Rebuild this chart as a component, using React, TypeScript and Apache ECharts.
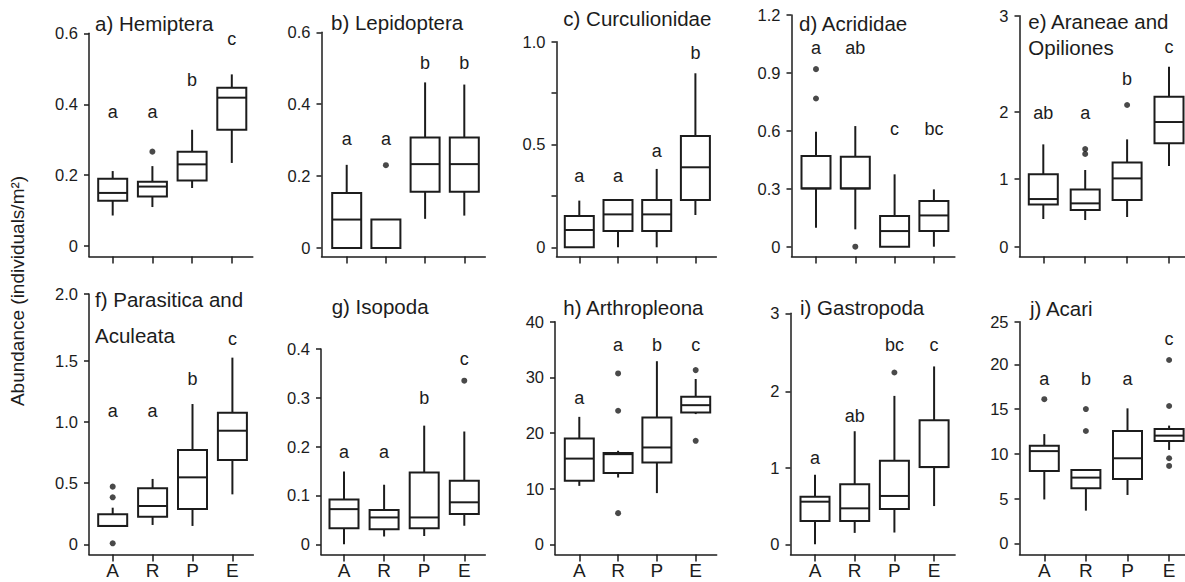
import React, { useEffect, useRef } from 'react';
import * as echarts from 'echarts';

// ---------- DATA ----------
const categories = ['A', 'R', 'P', 'E'];
const yAxisTitle = 'Abundance (individuals/m²)';

// box stats per category: [min, Q1, median, Q3, max]
const hemipteraBoxes = [[0.085, 0.127, 0.149, 0.189, 0.211], [0.109, 0.139, 0.167, 0.181, 0.225], [0.163, 0.184, 0.230, 0.266, 0.328], [0.234, 0.328, 0.419, 0.447, 0.485]];
const lepidopteraBoxes = [[0, 0, 0.079, 0.153, 0.231], [0, 0, 0, 0.079, 0.079], [0.081, 0.156, 0.233, 0.307, 0.46], [0.09, 0.156, 0.233, 0.307, 0.454]];
const curculionidaeBoxes = [[0, 0, 0.084, 0.152, 0.227], [0, 0.079, 0.16, 0.23, 0.23], [0, 0.079, 0.16, 0.23, 0.381], [0.157, 0.23, 0.389, 0.541, 0.846]];
const acrididaeBoxes = [[0.098, 0.302, 0.302, 0.47, 0.596], [0.09, 0.302, 0.302, 0.466, 0.625], [0, 0, 0.081, 0.159, 0.375], [0, 0.081, 0.162, 0.237, 0.297]];
const araneaeBoxes = [[0.41, 0.627, 0.706, 1.072, 1.516], [0.395, 0.543, 0.642, 0.849, 1.136], [0.44, 0.691, 1.012, 1.249, 1.59], [1.195, 1.531, 1.847, 2.222, 2.667]];
const parasiticaBoxes = [[0.15, 0.15, 0.15, 0.245, 0.299], [0.158, 0.226, 0.313, 0.457, 0.534], [0.15, 0.289, 0.547, 0.77, 1.146], [0.408, 0.689, 0.928, 1.075, 1.525]];
const isopodaBoxes = [[0, 0.033, 0.072, 0.092, 0.149], [0.016, 0.031, 0.055, 0.07, 0.122], [0.017, 0.033, 0.055, 0.147, 0.243], [0.038, 0.062, 0.086, 0.13, 0.231]];
const arthropleonaBoxes = [[10.5, 11.4, 15.4, 19.0, 22.9], [12.0, 12.8, 16.2, 16.4, 16.8], [9.2, 14.7, 17.4, 22.8, 32.9], [23.4, 23.7, 25.0, 26.5, 29.7]];
const gastropodaBoxes = [[0, 0.303, 0.557, 0.622, 0.908], [0.149, 0.303, 0.47, 0.785, 1.478], [0.154, 0.461, 0.632, 1.092, 1.94], [0.5, 1.009, 1.009, 1.623, 2.325]];
const acariBoxes = [[4.9, 8.08, 10.3, 10.9, 12.2], [3.65, 6.15, 7.34, 8.19, 8.19], [5.4, 7.19, 9.5, 12.55, 15.08], [10.43, 11.43, 12.03, 12.77, 13.15]];

// outliers: [category index, value]
const hemipteraOutliers = [[1, 0.266]];
const lepidopteraOutliers = [[1, 0.23]];
const curculionidaeOutliers: number[][] = [];
const acrididaeOutliers = [[0, 0.92], [0, 0.768], [1, 0]];
const araneaeOutliers = [[1, 1.447], [1, 1.373], [2, 2.099]];
const parasiticaOutliers = [[0, 0.471], [0, 0.384], [0, 0.008]];
const isopodaOutliers = [[3, 0.335]];
const arthropleonaOutliers = [[1, 30.7], [1, 24.0], [1, 5.6], [3, 31.3], [3, 18.6]];
const gastropodaOutliers = [[2, 2.246]];
const acariOutliers = [[0, 16.1], [1, 15.0], [1, 12.55], [3, 20.48], [3, 15.34], [3, 9.5], [3, 8.64]];

// significance letters and the height they sit at
const hemipteraLetters = ['a', 'a', 'b', 'c'];
const hemipteraLetterY = [0.378, 0.378, 0.47, 0.586];
const lepidopteraLetters = ['a', 'a', 'b', 'b'];
const lepidopteraLetterY = [0.303, 0.303, 0.514, 0.514];
const curculionidaeLetters = ['a', 'a', 'a', 'b'];
const curculionidaeLetterY = [0.348, 0.348, 0.47, 0.943];
const acrididaeLetters = ['a', 'ab', 'c', 'bc'];
const acrididaeLetterY = [1.028, 1.028, 0.611, 0.611];
const araneaeLetters = ['ab', 'a', 'b', 'c'];
const araneaeLetterY = [1.975, 1.975, 2.484, 2.963];
const parasiticaLetters = ['a', 'a', 'b', 'c'];
const parasiticaLetterY = [1.089, 1.089, 1.35, 1.674];
const isopodaLetters = ['a', 'a', 'b', 'c'];
const isopodaLetterY = [0.188, 0.188, 0.299, 0.38];
const arthropleonaLetters = ['a', 'a', 'b', 'c'];
const arthropleonaLetterY = [26.2, 35.8, 35.8, 35.8];
const gastropodaLetters = ['a', 'ab', 'bc', 'c'];
const gastropodaLetterY = [1.128, 1.675, 2.61, 2.61];
const acariLetters = ['a', 'b', 'a', 'c'];
const acariLetterY = [18.4, 18.4, 18.4, 22.8];

// y ticks and their labels ('' = unlabelled tick)
const hemipteraTicks = [0, 0.2, 0.4, 0.6];
const hemipteraTickLabels = ['0', '0.2', '0.4', '0.6'];
const lepidopteraTicks = [0, 0.2, 0.4, 0.6];
const lepidopteraTickLabels = ['0', '0.2', '0.4', '0.6'];
const curculionidaeTicks = [0, 0.25, 0.5, 0.75, 1.0];
const curculionidaeTickLabels = ['0', '', '0.5', '', '1.0'];
const acrididaeTicks = [0, 0.3, 0.6, 0.9, 1.2];
const acrididaeTickLabels = ['0', '0.3', '0.6', '0.9', '1.2'];
const araneaeTicks = [0, 1, 2, 3];
const araneaeTickLabels = ['0', '1', '2', '3'];
const parasiticaTicks = [0, 0.5, 1.0, 1.5, 2.0];
const parasiticaTickLabels = ['0', '0.5', '1.0', '1.5', '2.0'];
const isopodaTicks = [0, 0.1, 0.2, 0.3, 0.4];
const isopodaTickLabels = ['0', '0.1', '0.2', '0.3', '0.4'];
const arthropleonaTicks = [0, 10, 20, 30, 40];
const arthropleonaTickLabels = ['0', '10', '20', '30', '40'];
const gastropodaTicks = [0, 1, 2, 3];
const gastropodaTickLabels = ['0', '1', '2', '3'];
const acariTicks = [0, 5, 10, 15, 20, 25];
const acariTickLabels = ['0', '5', '10', '15', '20', '25'];

const titleLines = [
  ['a) Hemiptera'], ['b) Lepidoptera'], ['c) Curculionidae'], ['d) Acrididae'], ['e) Araneae and', 'Opiliones'],
  ['f) Parasitica and', 'Aculeata'], ['g) Isopoda'], ['h) Arthropleona'], ['i) Gastropoda'], ['j) Acari'],
];

const panels = [
  { boxes: hemipteraBoxes, outliers: hemipteraOutliers, letters: hemipteraLetters, letterY: hemipteraLetterY, ticks: hemipteraTicks, tickLabels: hemipteraTickLabels },
  { boxes: lepidopteraBoxes, outliers: lepidopteraOutliers, letters: lepidopteraLetters, letterY: lepidopteraLetterY, ticks: lepidopteraTicks, tickLabels: lepidopteraTickLabels },
  { boxes: curculionidaeBoxes, outliers: curculionidaeOutliers, letters: curculionidaeLetters, letterY: curculionidaeLetterY, ticks: curculionidaeTicks, tickLabels: curculionidaeTickLabels },
  { boxes: acrididaeBoxes, outliers: acrididaeOutliers, letters: acrididaeLetters, letterY: acrididaeLetterY, ticks: acrididaeTicks, tickLabels: acrididaeTickLabels },
  { boxes: araneaeBoxes, outliers: araneaeOutliers, letters: araneaeLetters, letterY: araneaeLetterY, ticks: araneaeTicks, tickLabels: araneaeTickLabels },
  { boxes: parasiticaBoxes, outliers: parasiticaOutliers, letters: parasiticaLetters, letterY: parasiticaLetterY, ticks: parasiticaTicks, tickLabels: parasiticaTickLabels },
  { boxes: isopodaBoxes, outliers: isopodaOutliers, letters: isopodaLetters, letterY: isopodaLetterY, ticks: isopodaTicks, tickLabels: isopodaTickLabels },
  { boxes: arthropleonaBoxes, outliers: arthropleonaOutliers, letters: arthropleonaLetters, letterY: arthropleonaLetterY, ticks: arthropleonaTicks, tickLabels: arthropleonaTickLabels },
  { boxes: gastropodaBoxes, outliers: gastropodaOutliers, letters: gastropodaLetters, letterY: gastropodaLetterY, ticks: gastropodaTicks, tickLabels: gastropodaTickLabels },
  { boxes: acariBoxes, outliers: acariOutliers, letters: acariLetters, letterY: acariLetterY, ticks: acariTicks, tickLabels: acariTickLabels },
];

// ---------- LAYOUT (pixels) ----------
const W = 1185;
const H = 582;
const INK = '#1c1c1c';
const FONT = '"Liberation Sans", Arial, Helvetica, sans-serif';
const BOX_W = 29;
const ROW_AXIS_PX = [256.5, 554.5];
const layout = [
  { axisX: 89, firstTick: 112.7, step: 39.7, zeroPx: 245.5, unitPx: 352.8, topPx: 33.3, titleX: 95, titleY: [23] },
  { axisX: 321.5, firstTick: 346.7, step: 39.2, zeroPx: 248, unitPx: 360, topPx: 32.3, titleX: 331, titleY: [22] },
  { axisX: 556.5, firstTick: 579.3, step: 38.7, zeroPx: 247.3, unitPx: 205.7, topPx: 41.7, titleX: 563.3, titleY: [18.5] },
  { axisX: 791.5, firstTick: 816, step: 39.3, zeroPx: 246.7, unitPx: 193, topPx: 15, titleX: 799, titleY: [23.5] },
  { axisX: 1019.5, firstTick: 1043.3, step: 41.9, zeroPx: 246.7, unitPx: 67.5, topPx: 15.7, titleX: 1028.3, titleY: [21.7, 47.3] },
  { axisX: 89, firstTick: 112.7, step: 39.9, zeroPx: 544.3, unitPx: 122.4, topPx: 294, titleX: 95, titleY: [299.7, 335] },
  { axisX: 321, firstTick: 344, step: 40.1, zeroPx: 544.3, unitPx: 488.3, topPx: 349, titleX: 331.7, titleY: [306.5] },
  { axisX: 555, firstTick: 579.3, step: 38.8, zeroPx: 544.3, unitPx: 5.565, topPx: 321.7, titleX: 563.3, titleY: [307.5] },
  { axisX: 790.5, firstTick: 815, step: 39.7, zeroPx: 544.3, unitPx: 76.5, topPx: 313.3, titleX: 800, titleY: [307.5] },
  { axisX: 1019.5, firstTick: 1044.3, step: 41.6, zeroPx: 543.3, unitPx: 8.95, topPx: 321.7, titleX: 1030, titleY: [308] },
];

function buildOption() {
  const grid: any[] = [];
  const xAxis: any[] = [];
  const yAxis: any[] = [];
  const series: any[] = [];
  const graphic: any[] = [];

  panels.forEach((p, k) => {
    const L = layout[k];
    const row = k < 5 ? 0 : 1;
    const axisPx = ROW_AXIS_PX[row];
    const xMin = 1 - (L.firstTick - L.axisX) / L.step;
    const xMax = 4 + 21 / L.step;
    const yMin = -(axisPx - L.zeroPx) / L.unitPx;
    const yMax = (L.zeroPx - L.topPx) / L.unitPx;
    const tickVals = p.ticks.slice(0, -1).concat([yMax]);
    const labelVals = tickVals.filter((_, i) => p.tickLabels[i] !== '');
    const catPos = categories.map((_, i) => i + 1);

    grid.push({
      left: L.axisX, top: L.topPx, width: (xMax - xMin) * L.step, height: axisPx - L.topPx,
      containLabel: false, outerBoundsMode: 'none',
    });
    xAxis.push({
      type: 'value', gridIndex: k, min: xMin, max: xMax,
      splitLine: { show: false },
      axisLine: { show: true, onZero: false, lineStyle: { color: INK, width: 1.5 } },
      axisTick: { show: true, customValues: catPos, length: 7, lineStyle: { color: INK, width: 1.5 } },
      axisLabel: {
        show: row === 1, customValues: catPos, margin: 6,
        color: INK, fontSize: 19, fontFamily: FONT, lineHeight: 19,
        formatter: (v: number) => categories[Math.round(v) - 1] ?? '',
      },
    });
    yAxis.push({
      type: 'value', gridIndex: k, min: yMin, max: yMax,
      splitLine: { show: false },
      axisLine: { show: true, onZero: false, lineStyle: { color: INK, width: 1.5 } },
      axisTick: { show: true, customValues: tickVals, length: 5, lineStyle: { color: INK, width: 1.5 } },
      axisLabel: {
        show: true, customValues: labelVals, margin: 11,
        color: INK, fontSize: 16.5, fontFamily: FONT,
        formatter: (v: number) => {
          const i = tickVals.findIndex((t) => Math.abs(t - v) < 1e-6);
          return i >= 0 ? p.tickLabels[i] : '';
        },
      },
    });

    series.push({
      type: 'custom', xAxisIndex: k, yAxisIndex: k, silent: true,
      data: p.boxes.map((b, i) => [i + 1, ...b]),
      renderItem: (params: any, api: any) => {
        const x = api.value(0);
        const lo = api.coord([x, api.value(1)]);
        const q1 = api.coord([x, api.value(2)]);
        const md = api.coord([x, api.value(3)]);
        const q3 = api.coord([x, api.value(4)]);
        const hi = api.coord([x, api.value(5)]);
        const cx = lo[0];
        const hw = BOX_W / 2;
        const st = { stroke: INK, lineWidth: 2, fill: null };
        return {
          type: 'group',
          children: [
            { type: 'line', shape: { x1: cx, y1: hi[1], x2: cx, y2: q3[1] }, style: st },
            { type: 'line', shape: { x1: cx, y1: q1[1], x2: cx, y2: lo[1] }, style: st },
            { type: 'rect', shape: { x: cx - hw, y: q3[1], width: 2 * hw, height: q1[1] - q3[1] }, style: { stroke: INK, lineWidth: 2, fill: '#fff' } },
            { type: 'line', shape: { x1: cx - hw, y1: md[1], x2: cx + hw, y2: md[1] }, style: st },
          ],
        };
      },
    });

    if (p.outliers.length) {
      series.push({
        type: 'scatter', xAxisIndex: k, yAxisIndex: k, silent: true,
        symbol: 'circle', symbolSize: 6, itemStyle: { color: INK },
        data: p.outliers.map(([c, v]) => [c + 1, v]),
      });
    }

    series.push({
      type: 'custom', xAxisIndex: k, yAxisIndex: k, silent: true,
      data: p.letters.map((_, i) => [i + 1, p.letterY[i]]),
      renderItem: (params: any, api: any) => {
        const pt = api.coord([api.value(0), api.value(1)]);
        return {
          type: 'text', x: pt[0], y: pt[1],
          style: {
            text: p.letters[params.dataIndex], fill: INK, fontSize: 18, fontFamily: FONT,
            align: 'center', verticalAlign: 'middle',
          },
        };
      },
    });

    titleLines[k].forEach((line, j) => {
      graphic.push({
        type: 'text', x: L.titleX, y: L.titleY[j], silent: true,
        style: { text: line, fill: INK, fontSize: 20.5, fontFamily: FONT, align: 'left', verticalAlign: 'middle' },
      });
    });
  });

  graphic.push({
    type: 'text', x: 17, y: 291, rotation: Math.PI / 2, silent: true,
    style: { text: yAxisTitle, fill: INK, fontSize: 19, fontFamily: FONT, align: 'center', verticalAlign: 'middle' },
  });

  return {
    animation: false,
    backgroundColor: '#ffffff',
    grid, xAxis, yAxis, series, graphic,
  };
}

export default function App() {
  const ref = useRef<HTMLDivElement>(null);
  useEffect(() => {
    if (!ref.current) return;
    const chart = echarts.init(ref.current, null, { renderer: 'svg' });
    chart.setOption(buildOption() as any);
    return () => chart.dispose();
  }, []);
  return (
    <div
      ref={ref}
      style={{ position: 'fixed', left: 0, top: 0, width: W, height: H, background: '#fff' }}
    />
  );
}
